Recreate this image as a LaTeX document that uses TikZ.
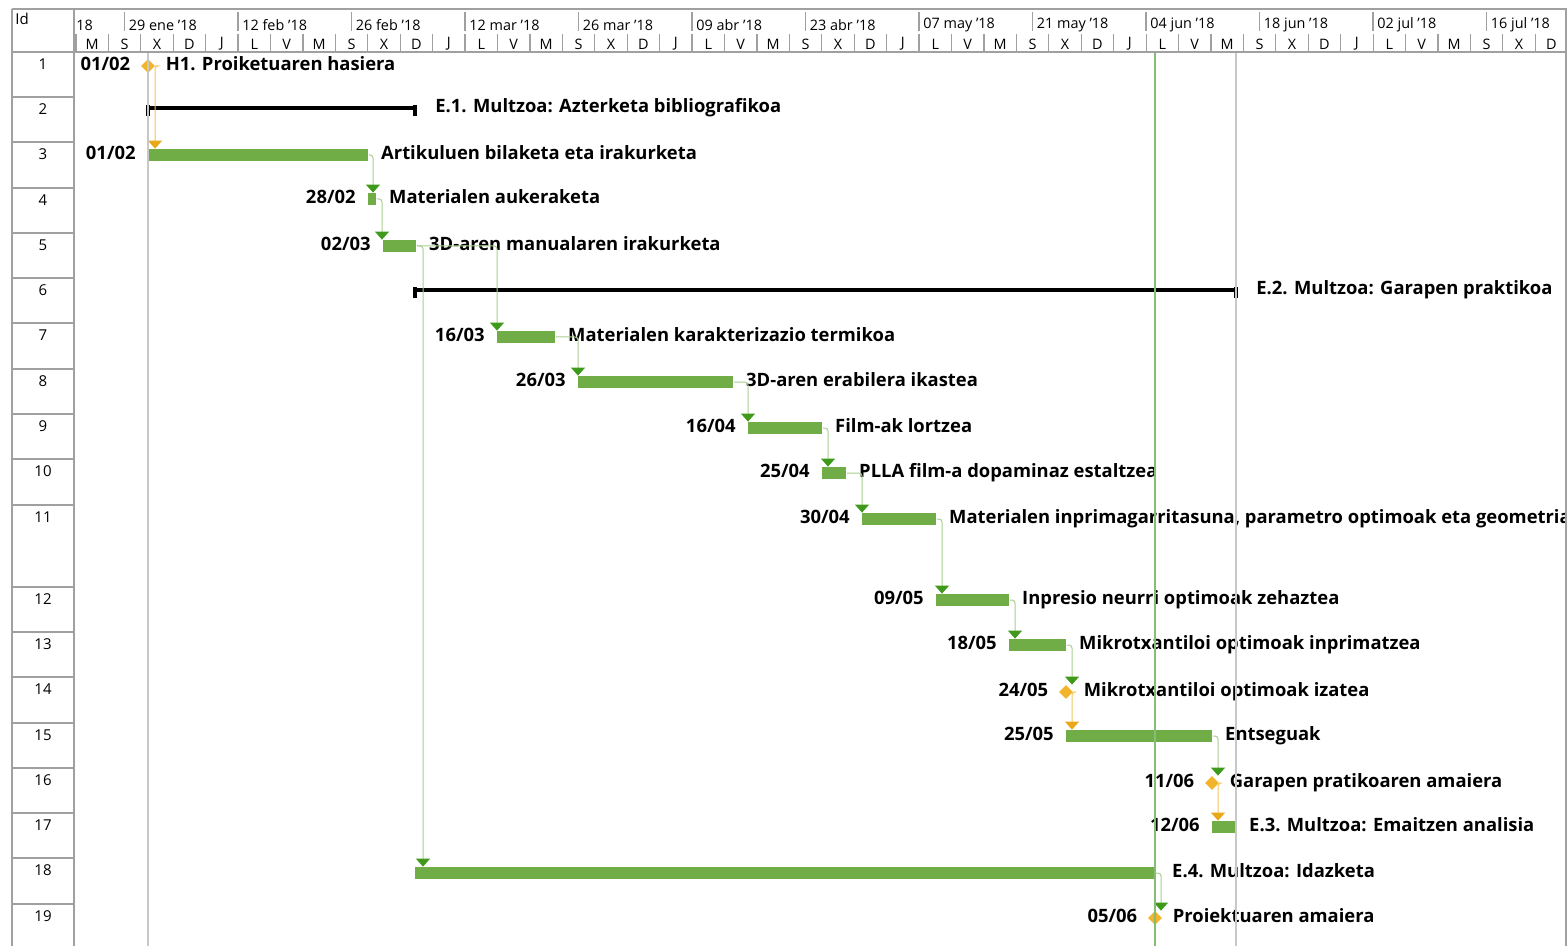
\documentclass[tikz,border=0pt]{standalone}
\usepackage{fontspec}
\setmainfont{Open Sans}
\usepackage{tikz}
\usetikzlibrary{shapes.geometric, arrows.meta, positioning, calc}

\definecolor{barfill}{HTML}{70AD47}
\definecolor{tipgreen}{HTML}{3F9A1C}
\definecolor{linkgreen}{HTML}{A9CF8F}
\definecolor{msorange}{HTML}{F2B42A}
\definecolor{linkorange}{HTML}{F3C660}
\definecolor{tiporange}{HTML}{E8A817}
\definecolor{gridgray}{HTML}{C8C8C8}
\definecolor{statusgreen}{HTML}{86BD74}
\definecolor{framegray}{HTML}{A0A0A0}

\newcommand{\dayletter}[1]{\ifcase#1 M\or S\or X\or D\or J\or L\or V\fi}

\begin{document}
\begin{tikzpicture}[x=0.5pt, y=-0.5pt,
    taskbar/.style={fill=barfill, inner sep=0pt, minimum height=6pt, anchor=west},
    milestone/.style={diamond, fill=msorange, inner sep=0pt, minimum size=7pt},
    lbl/.style={font=\fontsize{9.2}{11}\selectfont\bfseries, inner sep=0pt, text height=6.6pt, text depth=1.8pt},
    hdr/.style={font=\fontsize{7.2}{8}\selectfont, inner sep=0pt},
    idnum/.style={font=\fontsize{7.5}{9}\selectfont, inner sep=0pt},
    link/.style 2 args={draw=#1, line width=0.5pt, rounded corners=1.5pt,
        -{Triangle[width=7pt, length=4pt, color=#2, fill=#2]}},
    sumbar/.style={line width=1.6pt, black},
    frame/.style={framegray, line width=0.6pt}]

    \useasboundingbox (0,0) rectangle (1567,946);
    \clip (0,0) rectangle (1567,946);
    \fill[white] (0,0) rectangle (1567,946);

    % Timescale header (weeks on top, days below)
    \node[hdr, anchor=west] (w0) at (76,25) {18};
    \foreach \k/\wk in {1/{29 ene '18}, 2/{12 feb '18}, 3/{26 feb '18},
        4/{12 mar '18}, 5/{26 mar '18}, 6/{09 abr '18}, 7/{23 abr '18}, 8/{07 may '18},
        9/{21 may '18}, 10/{04 jun '18}, 11/{18 jun '18}, 12/{02 jul '18}, 13/{16 jul '18}} {
        \pgfmathsetmacro\wx{11+113.5*\k}
        \draw[frame] (\wx,12) -- (\wx,31);
        \node[hdr, anchor=west] (w\k) at (\wx+4,25) {\wk};
    }
    \foreach \k in {0,...,45} {
        \pgfmathsetmacro\cx{75.9+32.43*\k}
        \pgfmathtruncatemacro\m{mod(\k,7)}
        \draw[frame] (\cx,34) -- (\cx,52);
        \node[hdr] (c\k) at (\cx+16.2,44) {\dayletter{\m}};
    }

    % Id column
    \node[idnum, anchor=north west] (idh) at (15,13) {Id};
    \foreach \i/\t in {1/52, 2/97, 3/142, 4/188, 5/233, 6/278, 7/323, 8/369, 9/414, 10/459,
        11/505, 12/587, 13/632, 14/677, 15/723, 16/768, 17/813, 18/858, 19/904} {
        \draw[frame] (12,\t) -- (74,\t);
        \node[idnum] (id\i) at (43,\t+12) {\i};
    }

    % Summary rows
    \foreach \i/\s/\e/\y/\nm in {2/148/415/108/{E.1. Multzoa: Azterketa bibliografikoa},
        6/415/1236/290/{E.2. Multzoa: Garapen praktikoa}} {
        \coordinate (s\i a) at (\s,\y);
        \coordinate (s\i b) at (\e,\y);
        \draw[sumbar] (s\i a) -- (s\i b);
        \draw[sumbar] ($(s\i a)+(0,-3)$) -- ++(0,11);
        \draw[sumbar] ($(s\i b)+(0,-3)$) -- ++(0,11);
        \node[lbl, right=10pt of s\i b] (n\i) {\nm};
    }

    % Task bars with start date and name
    \foreach \i/\s/\e/\y/\dt/\nm in {
        3/148/368/155/{01/02}/{Artikuluen bilaketa eta irakurketa},
        4/368/376/199/{28/02}/{Materialen aukeraketa},
        5/383/416/246/{02/03}/{3D-aren manualaren irakurketa},
        7/497/555/337/{16/03}/{Materialen karakterizazio termikoa},
        8/578/733/382/{26/03}/{3D-aren erabilera ikastea},
        9/748/822/428/{16/04}/{Film-ak lortzea},
        10/822/846/473/{25/04}/{PLLA film-a dopaminaz estaltzea},
        11/862/936/519/{30/04}/{Materialen inprimagarritasuna, parametro optimoak eta geometria},
        12/936/1009/600/{09/05}/{Inpresio neurri optimoak zehaztea},
        13/1009/1066/645/{18/05}/{Mikrotxantiloi optimoak inprimatzea},
        15/1066/1212/736/{25/05}/{Entseguak},
        17/1212/1236/827/{12/06}/{E.3. Multzoa: Emaitzen analisia}} {
        \pgfmathsetmacro\w{(\e-\s)/2}
        \node[taskbar, minimum width=\w pt] (t\i) at (\s,\y) {};
        \node[lbl, left=6pt of t\i] (d\i) {\dt};
        \node[lbl, right=6pt of t\i] (n\i) {\nm};
    }
    \node[taskbar, minimum width=370pt] (t18) at (415,873) {};
    \node[lbl, right=8pt of t18] (n18) {E.4. Multzoa: Idazketa};

    % Milestones
    \foreach \i/\x/\y/\dt/\nm in {
        1/148/64/{01/02}/{H1. Proiketuaren hasiera},
        14/1066/690/{24/05}/{Mikrotxantiloi optimoak izatea},
        16/1212/781/{11/06}/{Garapen pratikoaren amaiera},
        19/1155/916/{05/06}/{Proiektuaren amaiera}} {
        \node[milestone] (t\i) at (\x,\y+2) {};
        \node[lbl, left=5pt of t\i] (d\i) {\dt};
        \node[lbl, right=5pt of t\i] (n\i) {\nm};
    }

    % Dependency links
    \foreach \p/\s/\xv/\lc/\tc in {
        1/3/155/linkorange/tiporange, 3/4/373/linkgreen/tipgreen,
        4/5/382/linkgreen/tipgreen, 5/7/497/linkgreen/tipgreen,
        5/18/423/linkgreen/tipgreen, 7/8/578/linkgreen/tipgreen,
        8/9/748/linkgreen/tipgreen, 9/10/828/linkgreen/tipgreen,
        10/11/862/linkgreen/tipgreen, 11/12/942/linkgreen/tipgreen,
        12/13/1015/linkgreen/tipgreen, 13/14/1072/linkgreen/tipgreen,
        14/15/1072/linkorange/tiporange, 15/16/1218/linkgreen/tipgreen,
        16/17/1218/linkorange/tiporange, 18/19/1161/linkgreen/tipgreen} {
        \coordinate (v) at (\xv,0);
        \draw[link={\lc}{\tc}] (t\p.east) -| (t\s.north -| v);
    }

    % Project start, status date and finish lines
    \draw[gridgray, line width=0.6pt] (148,52) -- (148,946);
    \draw[statusgreen, line width=0.8pt] (1155,52) -- (1155,946);
    \draw[gridgray, line width=0.6pt] (1236,52) -- (1236,946);

    % Table frame
    \draw[frame] (12,9) -- (1567,9);
    \draw[frame] (12,52) -- (1567,52);
    \draw[frame] (12,9) -- (12,946);
    \draw[frame] (74,9) -- (74,946);
    \draw[frame] (1566,9) -- (1566,946);
\end{tikzpicture}
\end{document}
